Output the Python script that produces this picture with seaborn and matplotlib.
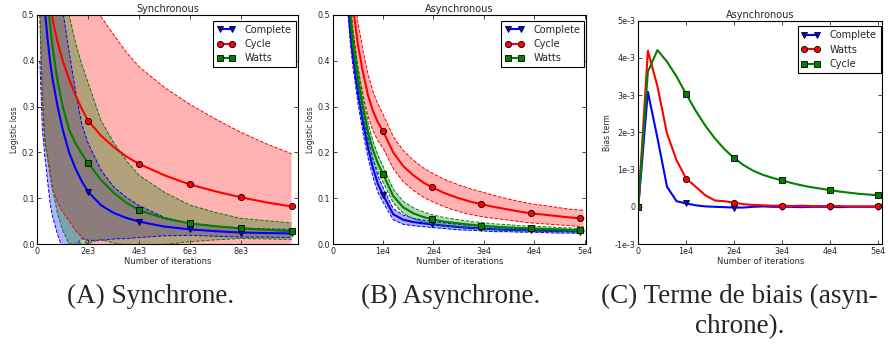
import numpy as np
import matplotlib
matplotlib.use("Agg")
import matplotlib.pyplot as plt
import seaborn as sns

sns.set_style("ticks")
plt.rcParams['font.family'] = ['DejaVu Sans']

# (A) synchrone : perte logistique moyenne et ecart-type
it_sync = [100, 200, 300, 400, 500, 600, 800, 1000, 1250, 1500, 1750, 2000,
           2500, 3000, 3500, 4000, 5000, 6000, 7000, 8000, 9000, 10000]
sync_complete = [0.75, 0.58, 0.51, 0.45, 0.40, 0.36, 0.30, 0.25, 0.20, 0.165, 0.137, 0.114,
                 0.085, 0.068, 0.057, 0.049, 0.038, 0.032, 0.028, 0.025, 0.024, 0.023]
sync_complete_std = [0.35, 0.33, 0.32, 0.31, 0.31, 0.30, 0.28, 0.26, 0.22, 0.17, 0.125, 0.106,
                     0.077, 0.057, 0.045, 0.035, 0.02, 0.013, 0.011, 0.01, 0.009, 0.009]
sync_cycle = [1.2, 0.9, 0.72, 0.62, 0.54, 0.49, 0.44, 0.40, 0.36, 0.325, 0.295, 0.269,
              0.237, 0.212, 0.191, 0.175, 0.15, 0.13, 0.115, 0.102, 0.091, 0.082]
sync_cycle_std = [0.7, 0.6, 0.5, 0.43, 0.39, 0.37, 0.35, 0.33, 0.31, 0.295, 0.28, 0.27,
                  0.26, 0.245, 0.228, 0.212, 0.192, 0.175, 0.158, 0.142, 0.128, 0.115]
sync_watts = [0.95, 0.75, 0.6, 0.53, 0.48, 0.43, 0.355, 0.30, 0.25, 0.22, 0.197, 0.177,
              0.14, 0.112, 0.09, 0.074, 0.056, 0.045, 0.039, 0.034, 0.031, 0.028]
sync_watts_std = [0.45, 0.42, 0.37, 0.34, 0.32, 0.31, 0.29, 0.27, 0.25, 0.22, 0.195, 0.175,
                  0.13, 0.11, 0.092, 0.076, 0.057, 0.04, 0.03, 0.022, 0.02, 0.018]
marks_sync = [11, 15, 17, 19, 21]

# (B) asynchrone
it_async = [2500, 3000, 3500, 4000, 5000, 6000, 7000, 8000, 9000, 10000, 12000, 14000,
            16000, 18000, 19700, 22000, 25000, 27500, 29500, 32000, 35000, 37000, 39300,
            42000, 44500, 47000, 49100, 49800]
async_complete = [0.62, 0.53, 0.46, 0.41, 0.33, 0.265, 0.21, 0.165, 0.13, 0.107, 0.065, 0.053,
                  0.048, 0.045, 0.043, 0.040, 0.037, 0.035, 0.034, 0.032, 0.031, 0.030, 0.030,
                  0.029, 0.028, 0.028, 0.027, 0.027]
async_complete_std = [0.022, 0.022, 0.022, 0.022, 0.022, 0.022, 0.021, 0.02, 0.018, 0.016, 0.012,
                      0.01, 0.008, 0.007, 0.007, 0.006, 0.006, 0.005, 0.005, 0.005, 0.004, 0.004,
                      0.004, 0.004, 0.004, 0.004, 0.004, 0.004]
async_cycle = [0.9, 0.75, 0.6, 0.52, 0.435, 0.375, 0.325, 0.29, 0.265, 0.246, 0.2, 0.17,
               0.15, 0.134, 0.124, 0.112, 0.1, 0.092, 0.087, 0.081, 0.075, 0.071, 0.067,
               0.064, 0.061, 0.058, 0.056, 0.056]
async_cycle_std = [0.05, 0.05, 0.05, 0.05, 0.05, 0.048, 0.046, 0.043, 0.04, 0.037, 0.035, 0.034,
                   0.033, 0.032, 0.031, 0.030, 0.029, 0.028, 0.027, 0.025, 0.023, 0.022, 0.021,
                   0.020, 0.019, 0.018, 0.018, 0.018]
async_watts = [0.68, 0.58, 0.50, 0.445, 0.365, 0.30, 0.245, 0.205, 0.175, 0.152, 0.105, 0.08,
               0.067, 0.059, 0.054, 0.049, 0.045, 0.042, 0.040, 0.038, 0.036, 0.035, 0.034,
               0.033, 0.032, 0.031, 0.030, 0.030]
async_watts_std = [0.02, 0.02, 0.02, 0.02, 0.02, 0.02, 0.02, 0.019, 0.018, 0.017, 0.015, 0.013,
                   0.012, 0.011, 0.010, 0.009, 0.008, 0.007, 0.007, 0.006, 0.006, 0.005, 0.005,
                   0.005, 0.004, 0.004, 0.004, 0.004]
marks_async = [9, 14, 18, 22, 26]

# (C) terme de biais (asynchrone), en unites de 1e-3
it_bias = [0, 2000, 4000, 6000, 8000, 10000, 12000, 14000, 16000, 18000, 20000, 22000, 24000,
           26000, 28000, 30000, 32000, 34000, 36000, 38000, 40000, 42000, 44000, 46000, 48000,
           50000, 51000]
bias_complete = [0, 3.09, 1.85, 0.54, 0.15, 0.09, 0.04, 0.01, 0.0, -0.01, -0.02, -0.02, 0.0,
                 0.01, 0.0, 0.0, 0.0, -0.01, 0.0, 0.0, 0.0, -0.01, 0.0, 0.0, 0.0, 0.0, 0.0]
bias_watts = [0, 4.19, 3.24, 1.97, 1.25, 0.76, 0.54, 0.31, 0.17, 0.15, 0.11, 0.07, 0.05,
              0.04, 0.03, 0.03, 0.02, 0.03, 0.02, 0.02, 0.02, 0.02, 0.01, 0.01, 0.01, 0.01, 0.01]
bias_cycle = [0, 3.63, 4.21, 3.9, 3.5, 3.03, 2.58, 2.18, 1.84, 1.55, 1.31, 1.12, 0.97,
              0.86, 0.78, 0.71, 0.64, 0.58, 0.53, 0.49, 0.45, 0.41, 0.38, 0.35, 0.33, 0.31, 0.30]

xt_sync = [0, 2000, 4000, 6000, 8000]
xt_sync_lab = ['0', '2e3', '4e3', '6e3', '8e3']
xt_async = [0, 10000, 20000, 30000, 40000, 50000]
xt_async_lab = ['0', '1e4', '2e4', '3e4', '4e4', '5e4']
yt_loss = [0.0, 0.1, 0.2, 0.3, 0.4, 0.5]
yt_bias = [-1e-3, 0, 1e-3, 2e-3, 3e-3, 4e-3, 5e-3]
yt_bias_lab = ['-1e-3', '0', '1e-3', '2e-3', '3e-3', '4e-3', '5e-3']

captions = ['(A) Synchrone.', '(B) Asynchrone.', '(C) Terme de biais (asyn-', 'chrone).']


def courbe(ax, x, moy, et, couleur, marqueur, nom, marques):
    moy = np.array(moy)
    et = np.array(et)
    ax.fill_between(x, moy - et, moy + et, color=couleur, alpha=0.3, lw=0)
    ax.plot(x, moy - et, '--', color=couleur, lw=0.7)
    ax.plot(x, moy + et, '--', color=couleur, lw=0.7)
    sns.lineplot(x=x, y=moy, ax=ax, color=couleur, lw=1.5, marker=marqueur, markersize=4.5,
                 markeredgecolor='k', markeredgewidth=0.6, markevery=marques, label=nom,
                 legend=False)


def habillage(ax, titre, ylab):
    ax.set_title(titre, fontsize=7, pad=2)
    ax.set_xlabel('Number of iterations', fontsize=6, labelpad=1)
    ax.set_ylabel(ylab, fontsize=5.5, labelpad=2)
    ax.tick_params(direction='in', top=True, right=True, labelsize=5.8, length=3, width=0.6, pad=2)
    for s in ax.spines.values():
        s.set_color('k')
        s.set_linewidth(0.8)
    ax.legend(loc='upper right', bbox_to_anchor=(0.993, 0.975), borderaxespad=0, numpoints=2,
              fancybox=False, edgecolor='k', framealpha=1, fontsize=7, handlelength=1.9,
              borderpad=0.4, labelspacing=0.45, handletextpad=1.0)
    ax.get_legend().get_frame().set_linewidth(0.8)


fig = plt.figure(figsize=(8.88, 3.47), dpi=100)
axA = fig.add_axes([0.042, 0.2968, 0.2932, 0.66])
axB = fig.add_axes([0.3747, 0.2968, 0.2853, 0.66])
axC = fig.add_axes([0.7188, 0.2968, 0.2748, 0.6435])

courbe(axA, it_sync, sync_complete, sync_complete_std, 'b', 'v', 'Complete', marks_sync)
courbe(axA, it_sync, sync_cycle, sync_cycle_std, 'r', 'o', 'Cycle', marks_sync)
courbe(axA, it_sync, sync_watts, sync_watts_std, 'g', 's', 'Watts', marks_sync)
axA.set_xlim(0, 10240)
axA.set_ylim(0, 0.5)
axA.set_xticks(xt_sync, xt_sync_lab)
axA.set_yticks(yt_loss, [f'{v:.1f}' for v in yt_loss])
habillage(axA, 'Synchronous', 'Logistic loss')

courbe(axB, it_async, async_complete, async_complete_std, 'b', 'v', 'Complete', marks_async)
courbe(axB, it_async, async_cycle, async_cycle_std, 'r', 'o', 'Cycle', marks_async)
courbe(axB, it_async, async_watts, async_watts_std, 'g', 's', 'Watts', marks_async)
axB.set_xlim(0, 50300)
axB.set_ylim(0, 0.5)
axB.set_xticks(xt_async, xt_async_lab)
axB.set_yticks(yt_loss, [f'{v:.1f}' for v in yt_loss])
habillage(axB, 'Asynchronous', 'Logistic loss')

for y, c, m, nom in [(bias_complete, 'b', 'v', 'Complete'), (bias_watts, 'r', 'o', 'Watts'),
                     (bias_cycle, 'g', 's', 'Cycle')]:
    sns.lineplot(x=it_bias, y=np.array(y) * 1e-3, ax=axC, color=c, lw=1.5, marker=m,
                 markersize=4.5, markeredgecolor='k', markeredgewidth=0.6, markevery=5,
                 label=nom, legend=False)
axC.set_xlim(0, 51000)
axC.set_ylim(-1e-3, 5e-3)
axC.set_xticks(xt_async, xt_async_lab)
axC.set_yticks(yt_bias, yt_bias_lab)
habillage(axC, 'Asynchronous', 'Bias term')

serif = ['Liberation Serif', 'DejaVu Serif']
for txt, xc, yc in zip(captions, [0.170, 0.507, 0.833, 0.833], [0.147, 0.147, 0.147, 0.058]):
    fig.text(xc, yc, txt, ha='center', va='center', fontsize=19.5, family=serif)

fig.savefig('out.png', dpi=100)
